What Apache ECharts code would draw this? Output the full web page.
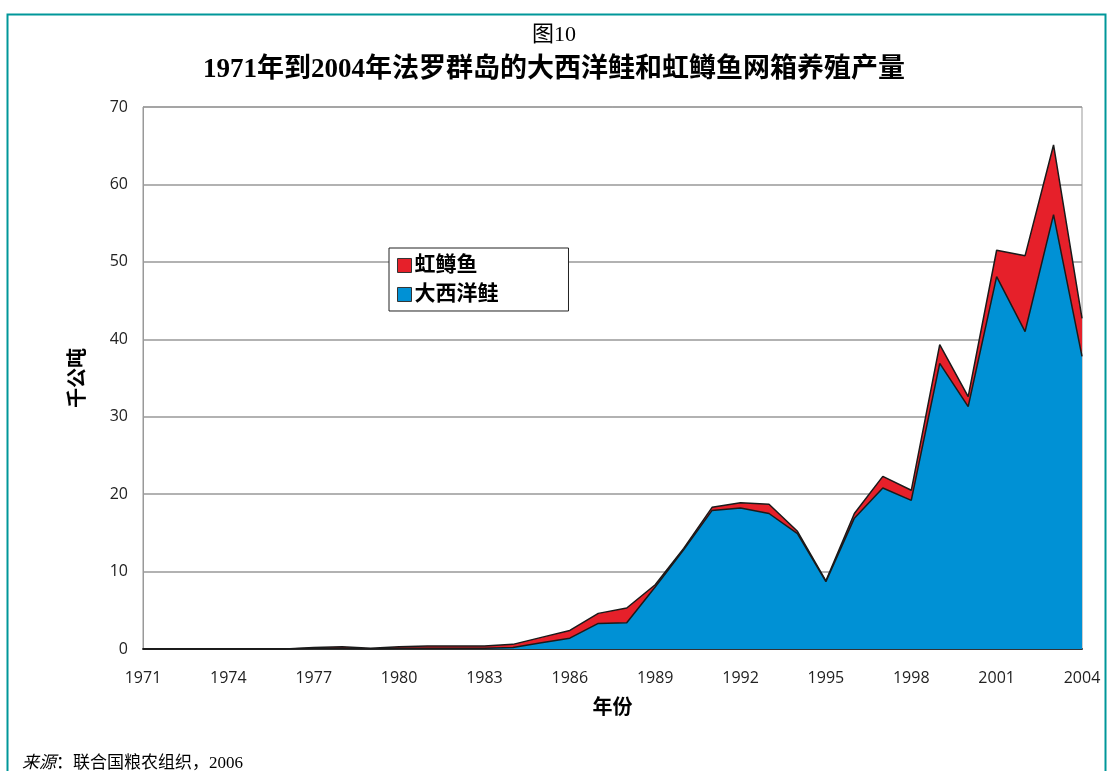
<!DOCTYPE html>
<html>
<head>
<meta charset="utf-8">
<script src="https://cdn.jsdelivr.net/npm/echarts@6/dist/echarts.min.js"></script>
<style>
  html, body { margin: 0; padding: 0; background: #fff; }
  #chart { width: 1108px; height: 771px; }
</style>
</head>
<body>
<div id="chart"></div>
<script>
// Faroe Islands cage-farm production, thousand tonnes
const years = [];
for (let y = 1971; y <= 2004; y++) years.push(String(y));

const salmon = [
  0, 0, 0, 0, 0, 0, 0.1, 0.1, 0, 0.1,
  0.1, 0.1, 0.1, 0.2, 0.8, 1.4, 3.3, 3.4, 8.0, 12.8,
  17.9, 18.2, 17.5, 14.9, 8.7, 16.9, 20.8, 19.2, 36.9, 31.3,
  48.1, 41.0, 56.1, 37.8
];
const trout = [
  0, 0, 0, 0, 0, 0, 0.1, 0.2, 0.1, 0.2,
  0.3, 0.3, 0.3, 0.4, 0.7, 1.0, 1.3, 1.9, 0.3, 0.2,
  0.4, 0.7, 1.2, 0.3, 0.1, 0.6, 1.5, 1.3, 2.4, 1.3,
  3.4, 9.8, 9.0, 4.9
];
const yTicks = [0, 10, 20, 30, 40, 50, 60, 70];

const SERIF = '"Liberation Serif", "Noto Sans CJK SC", serif';
const SANS = '"Open Sans", "Noto Sans CJK SC", sans-serif';

const chart = echarts.init(document.getElementById('chart'));
chart.setOption({
  animation: false,
  backgroundColor: '#fff',
  title: [
    {
      text: '图10',
      left: 'center',
      top: 19,
      textStyle: { fontFamily: SERIF, fontSize: 22, fontWeight: 'normal', color: '#000' }
    },
    {
      text: '1971年到2004年法罗群岛的大西洋鲑和虹鳟鱼网箱养殖产量',
      left: 'center',
      top: 52,
      textStyle: { fontFamily: SERIF, fontSize: 27, fontWeight: 'bold', color: '#000' }
    }
  ],
  legend: {
    data: [
      { name: '虹鳟鱼', icon: 'rect' },
      { name: '大西洋鲑', icon: 'rect' }
    ],
    orient: 'vertical',
    left: 389,
    top: 248,
    padding: [7, 70, 6, 8],
    itemGap: 8,
    itemWidth: 14,
    itemHeight: 14,
    backgroundColor: '#fff',
    borderColor: '#222',
    borderWidth: 1,
    borderRadius: 0,
    itemStyle: { borderColor: '#333', borderWidth: 1 },
    textStyle: { fontFamily: SANS, fontSize: 21, color: '#000', fontWeight: 'bold', padding: [0, 0, 0, -2] }
  },
  grid: {
    left: 143,
    right: 26,
    top: 107,
    bottom: 122,
    show: true,
    borderColor: '#999',
    borderWidth: 1
  },
  xAxis: {
    type: 'category',
    data: years,
    boundaryGap: false,
    name: '年份',
    nameLocation: 'middle',
    nameGap: 49,
    nameTextStyle: { fontFamily: SANS, fontSize: 20, fontWeight: 'bold', color: '#000' },
    axisLine: { show: true, lineStyle: { color: '#333', width: 2 } },
    axisTick: { show: false },
    axisLabel: {
      interval: 2,
      margin: 21,
      fontFamily: SANS,
      fontSize: 16,
      color: '#222'
    },
    splitLine: { show: false }
  },
  yAxis: {
    type: 'value',
    min: yTicks[0],
    max: yTicks[yTicks.length - 1],
    interval: 10,
    name: '千公吨',
    nameLocation: 'middle',
    nameGap: 55,
    nameRotate: 90,
    nameTextStyle: { fontFamily: SANS, fontSize: 20, fontWeight: 'bold', color: '#000' },
    axisLine: { show: true, lineStyle: { color: '#999', width: 1 } },
    axisTick: { show: false },
    axisLabel: {
      margin: 15,
      fontFamily: SANS,
      fontSize: 16,
      color: '#222'
    },
    splitLine: { show: true, lineStyle: { color: '#999', width: 1.5 } }
  },
  series: [
    {
      name: '大西洋鲑',
      type: 'line',
      stack: 'total',
      data: salmon,
      symbol: 'none',
      lineStyle: { color: '#1a1a1a', width: 1.5 },
      itemStyle: { color: '#0091D5' },
      areaStyle: { color: '#0091D5', opacity: 1 },
      z: 3
    },
    {
      name: '虹鳟鱼',
      type: 'line',
      stack: 'total',
      data: trout,
      symbol: 'none',
      lineStyle: { color: '#1a1a1a', width: 1.5 },
      itemStyle: { color: '#E6202A' },
      areaStyle: { color: '#E6202A', opacity: 1 },
      z: 2
    }
  ],
  graphic: [
    {
      type: 'rect',
      left: 5,
      top: 12,
      shape: { width: 1098, height: 800 },
      style: { fill: 'none', stroke: '#00979A', lineWidth: 2 },
      silent: true
    },
    {
      type: 'text',
      left: 22,
      top: 755,
      style: {
        text: '{i|来源}：联合国粮农组织，2006',
        font: '17px ' + SERIF,
        fill: '#000',
        rich: {
          i: { fontStyle: 'italic', fontFamily: SERIF, fontSize: 17, fill: '#000' }
        }
      }
    }
  ]
});
</script>
</body>
</html>
